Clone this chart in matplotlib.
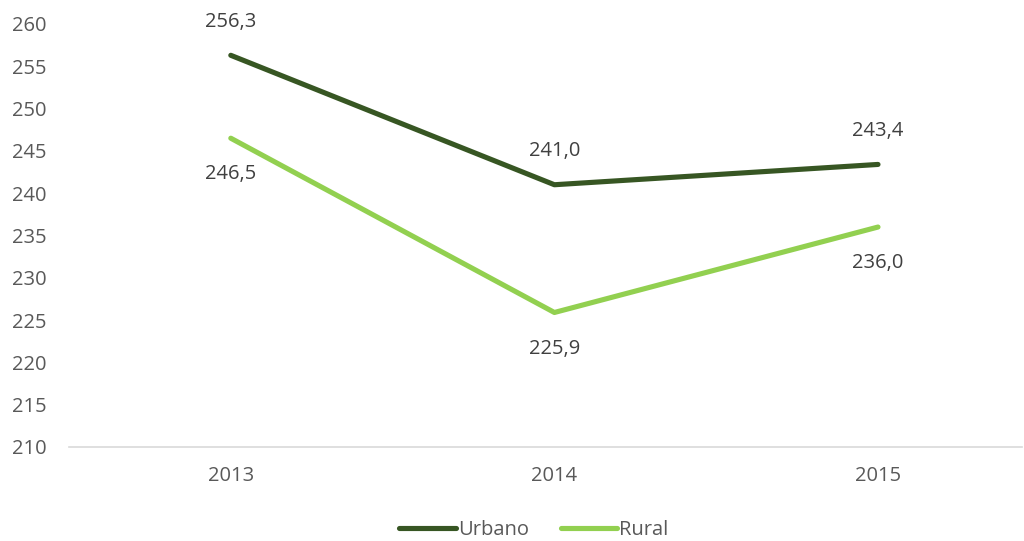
import matplotlib.pyplot as plt

years = ["2013", "2014", "2015"]
urbano = [256.3, 241.0, 243.4]
rural = [246.5, 225.9, 236.0]

darkGreen = "#375623"
lightGreen = "#92D050"
textColor = "#595959"

plt.rcParams['font.family'] = ['Open Sans', 'DejaVu Sans']

fig = plt.figure(figsize=(10.24, 5.41), dpi=100)
ax = fig.add_axes([69 / 1024, 1 - 447 / 541, (1022 - 69) / 1024, (447 - 24) / 541])

x = list(range(len(years)))
ax.plot(x, urbano, color=darkGreen, lw=3.7, solid_capstyle="round", label="Urbano")
ax.plot(x, rural, color=lightGreen, lw=3.7, solid_capstyle="round", label="Rural")

# data labels: urbano above, rural below
for i in x:
    ax.annotate(f"{urbano[i]:.1f}".replace(".", ","), (i, urbano[i]), xytext=(0, 24),
                textcoords="offset points", ha="center", va="center", fontsize=14.5, color="#404040")
    ax.annotate(f"{rural[i]:.1f}".replace(".", ","), (i, rural[i]), xytext=(0, -26),
                textcoords="offset points", ha="center", va="center", fontsize=14.5, color="#404040")

ax.set_xlim(-0.5, 2.445)
ax.set_ylim(210, 260)
ax.set_yticks(range(210, 261, 5))
ax.set_xticks(x)
ax.set_xticklabels(years)

for s in ["top", "right", "left"]:
    ax.spines[s].set_visible(False)
ax.spines["bottom"].set_color("#D9D9D9")
ax.spines["bottom"].set_linewidth(1.2)
ax.tick_params(axis="both", length=0, labelsize=14.5, colors=textColor)
ax.tick_params(axis="y", pad=41)
ax.tick_params(axis="x", pad=14)
for lbl in ax.get_yticklabels():
    lbl.set_horizontalalignment("left")

fig.legend(loc="center", bbox_to_anchor=(534 / 1024, 1 - 530 / 541), ncol=2, frameon=False,
           fontsize=14.5, labelcolor=textColor, handlelength=2.8, handletextpad=0.1, columnspacing=1.6)

fig.savefig("out.png", dpi=100)
